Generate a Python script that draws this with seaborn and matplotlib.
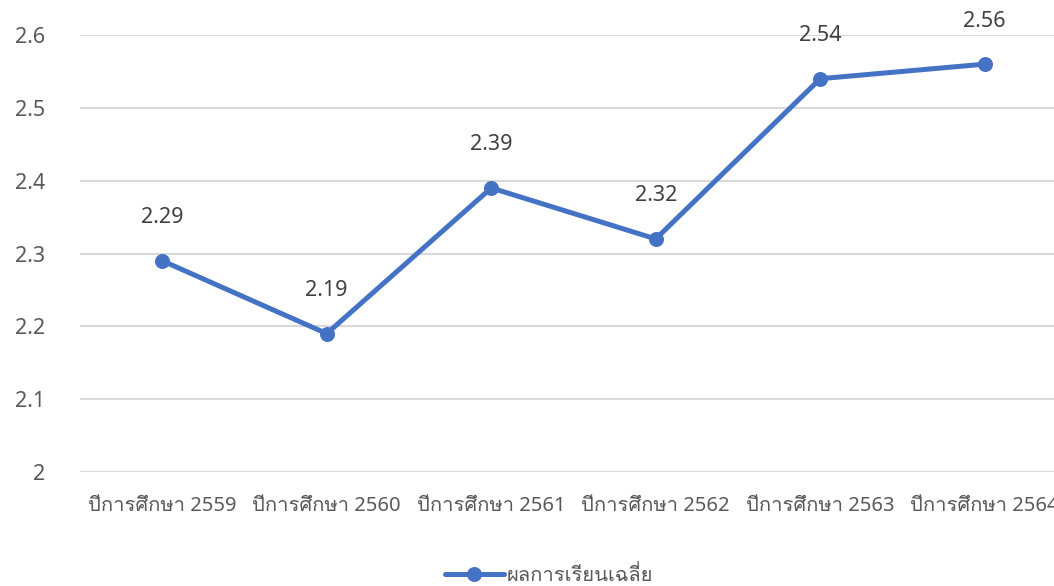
import matplotlib
matplotlib.use("Agg")
import matplotlib.pyplot as plt
from matplotlib import font_manager
import seaborn as sns
import pandas as pd

years = ["ปีการศึกษา 2559", "ปีการศึกษา 2560", "ปีการศึกษา 2561",
         "ปีการศึกษา 2562", "ปีการศึกษา 2563", "ปีการศึกษา 2564"]
scores = [2.29, 2.19, 2.39, 2.32, 2.54, 2.56]
series_name = "ผลการเรียนเฉลี่ย"
y_ticks = [2.0, 2.1, 2.2, 2.3, 2.4, 2.5, 2.6]
y_tick_labels = ["2", "2.1", "2.2", "2.3", "2.4", "2.5", "2.6"]

# find a font that has Thai glyphs
thai_family = None
try:
    from fontTools.ttLib import TTFont
    for f in font_manager.fontManager.ttflist:
        try:
            tt = TTFont(f.fname, fontNumber=0, lazy=True)
            cmap = tt.getBestCmap()
            if cmap and 0x0E1B in cmap and 0x0E35 in cmap:
                thai_family = f.name
                break
        except Exception:
            continue
except Exception:
    pass

sns.set_theme(style="white")
fams = ["Noto Sans"] + ([thai_family] if thai_family else []) + ["DejaVu Sans"]
plt.rcParams["font.family"] = fams

df = pd.DataFrame({"year": years, "score": scores})

fig = plt.figure(figsize=(10.54, 5.86), dpi=100)
ax = fig.add_axes([80 / 1054, 1 - 472 / 586, (1067 - 80) / 1054, (472 - 35) / 586])

line_color = "#4472C4"
sns.lineplot(data=df, x="year", y="score", ax=ax, color=line_color,
             linewidth=3.6, marker="o", markersize=10.8, markeredgewidth=0,
             sort=False, label=series_name, legend=False)

ax.set_ylim(2.0, 2.6)
ax.set_xlim(-0.5, len(years) - 0.5)
ax.set_yticks(y_ticks)
ax.set_yticklabels(y_tick_labels)
ax.yaxis.grid(True, color="#D9D9D9", linewidth=1.5)
ax.xaxis.grid(False)
ax.set_axisbelow(True)
for s in ax.spines.values():
    s.set_visible(False)
ax.tick_params(axis="y", length=0, pad=25, labelsize=15.5, labelcolor="#595959")
ax.tick_params(axis="x", length=0, pad=17, labelsize=14.5, labelcolor="#595959")
for t in ax.get_yticklabels() + ax.get_xticklabels():
    t.set_fontweight("light")
ax.set_xlabel("")
ax.set_ylabel("")

for i, v in enumerate(scores):
    ax.annotate(f"{v:.2f}", xy=(i, v), xytext=(0, 31), textcoords="offset points",
                ha="center", va="center", fontsize=15.5, color="#404040",
                fontweight="light", annotation_clip=False)

handles, labels = ax.get_legend_handles_labels()
fig.legend(handles, labels, loc="center", bbox_to_anchor=(0.521, 1 - 576 / 586),
           frameon=False, fontsize=14.5, labelcolor="#595959",
           handlelength=2.9, handletextpad=0.15)

fig.savefig("out.png", dpi=100)
